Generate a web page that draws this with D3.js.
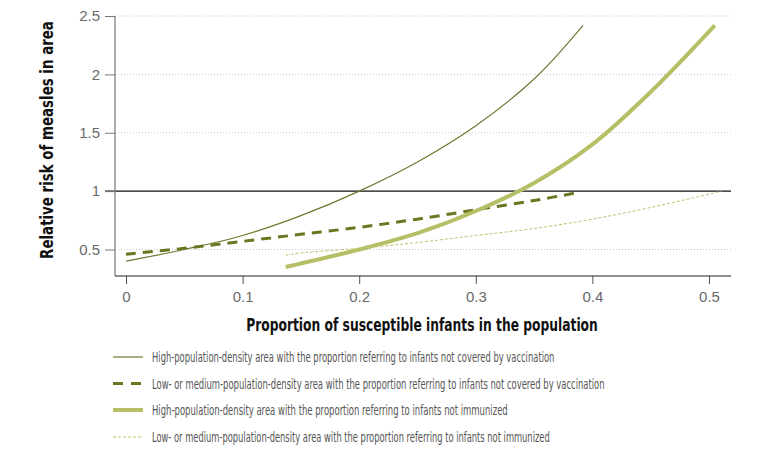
<!DOCTYPE html>
<html><head><meta charset="utf-8">
<script src="https://cdn.jsdelivr.net/npm/d3@7"></script>
<style>
body{margin:0;background:#fff;}
svg{display:block;font-family:"Liberation Sans Narrow","DejaVu Sans Condensed",sans-serif;}
</style></head><body>
<svg id="c" width="771" height="454"></svg>
<script>
const xTicks = [0, 0.1, 0.2, 0.3, 0.4, 0.5];
const yTicks = [0.5, 1, 1.5, 2, 2.5];
const xTitle = "Proportion of susceptible infants in the population";
const yTitle = "Relative risk of measles in area";
const seriesNames = [
  "High-population-density area with the proportion referring to infants not covered by vaccination",
  "Low- or medium-population-density area with the proportion referring to infants not covered by vaccination",
  "High-population-density area with the proportion referring to infants not immunized",
  "Low- or medium-population-density area with the proportion referring to infants not immunized"
];
const s1x = [0, 0.05, 0.1, 0.15, 0.2, 0.25, 0.3, 0.35, 0.392];
const s1y = [0.40, 0.50, 0.62, 0.79, 1.00, 1.25, 1.56, 1.96, 2.42];
const s2x = [0, 0.05, 0.1, 0.15, 0.2, 0.25, 0.3, 0.35, 0.389];
const s2y = [0.46, 0.51, 0.57, 0.63, 0.69, 0.76, 0.84, 0.92, 0.99];
const s3x = [0.137, 0.15, 0.2, 0.25, 0.3, 0.35, 0.4, 0.45, 0.505];
const s3y = [0.35, 0.38, 0.50, 0.64, 0.83, 1.07, 1.40, 1.85, 2.42];
const s4x = [0.137, 0.15, 0.2, 0.25, 0.3, 0.35, 0.4, 0.45, 0.511];
const s4y = [0.45, 0.47, 0.51, 0.56, 0.62, 0.68, 0.76, 0.86, 1.00];

const styles = [
  {color:"#6f7830", width:1.2, dash:null},
  {color:"#6a7722", width:3, dash:"10,7"},
  {color:"#b6bf66", width:4, dash:null},
  {color:"#bcc46e", width:1, dash:"3,2"}
];
const seriesData = [[s1x,s1y],[s2x,s2y],[s3x,s3y],[s4x,s4y]].map(([xs,ys]) => xs.map((v,i)=>({x:v,y:ys[i]})));

const svg = d3.select("#c");
const x = d3.scaleLinear().domain([0,0.5]).range([126,709]);
const y = d3.scaleLinear().domain([0.5,2.5]).range([249.5,16]);
const axisY = 276, xLeft = 115, xRight = 731;

function fitText(sel, ax, ay, w, rot) {
  const n = sel.node();
  const nat = n.getComputedTextLength();
  const s = Math.min(1.3, w / nat);
  sel.attr("transform", `translate(${ax},${ay})` + (rot ? ` rotate(${rot})` : "") + ` scale(${s},1)`);
}

svg.append("g").selectAll("line").data(yTicks.filter(d=>d!==1)).join("line")
  .attr("x1",xLeft).attr("x2",xRight).attr("y1",d=>y(d)).attr("y2",d=>y(d))
  .attr("stroke","#c8c8c8").attr("stroke-width",1).attr("stroke-dasharray","1,2");
svg.append("line").attr("x1",105).attr("x2",xRight).attr("y1",y(1)).attr("y2",y(1))
  .attr("stroke","#111").attr("stroke-width",1.1);

const gy = svg.append("g").attr("transform",`translate(${xLeft},0)`)
  .call(d3.axisLeft(y).tickValues(yTicks).tickFormat(d3.format("~g")).tickSize(10).tickPadding(5));
gy.select(".domain").remove();
gy.selectAll(".tick line").attr("stroke","#777");
gy.selectAll(".tick text").attr("fill","#6a6a6a").style("font-size","15px").style("font-family","inherit");
svg.append("line").attr("x1",xLeft).attr("x2",xLeft).attr("y1",y(2.5)).attr("y2",axisY)
  .attr("stroke","#777").attr("stroke-width",1.2);

const gx = svg.append("g").attr("transform",`translate(0,${axisY})`)
  .call(d3.axisBottom(x).tickValues(xTicks).tickFormat(d3.format("~g")).tickSize(8).tickPadding(7));
gx.select(".domain").remove();
gx.selectAll(".tick line").attr("stroke","#555");
gx.selectAll(".tick text").attr("fill","#6a6a6a").style("font-size","15px").style("font-family","inherit");
svg.append("line").attr("x1",xLeft).attr("x2",xRight).attr("y1",axisY).attr("y2",axisY)
  .attr("stroke","#222").attr("stroke-width",1.2);

const line = d3.line().x(d=>x(d.x)).y(d=>y(d.y)).curve(d3.curveCatmullRom.alpha(0.5));
seriesData.forEach((data,i)=>{
  const st = styles[i];
  const p = svg.append("path").datum(data).attr("d",line).attr("fill","none")
    .attr("stroke",st.color).attr("stroke-width",st.width);
  if (st.dash) p.attr("stroke-dasharray",st.dash);
});

const xt = svg.append("text").attr("text-anchor","middle")
  .style("font-size","17px").style("font-weight","bold").attr("fill","#111").text(xTitle);
fitText(xt, 422, 331, 352, 0);
const yt = svg.append("text").attr("text-anchor","middle")
  .style("font-size","17px").style("font-weight","bold").attr("fill","#111").text(yTitle);
fitText(yt, 53, 140, 238, -90);

const legY = [357, 383.5, 410, 437];
const legW = [403, 453, 356, 398];
seriesNames.forEach((name,i)=>{
  const st = styles[i];
  const l = svg.append("line").attr("x1",113).attr("x2",143).attr("y1",legY[i]).attr("y2",legY[i])
    .attr("stroke",st.color).attr("stroke-width",st.width);
  if (st.dash) l.attr("stroke-dasharray", i===1 ? "10,8" : "3,2");
  const t = svg.append("text").attr("dy","0.35em")
    .style("font-size","14.5px").attr("fill","#555").text(name);
  fitText(t, 152, legY[i], legW[i], 0);
});
</script>
</body></html>
